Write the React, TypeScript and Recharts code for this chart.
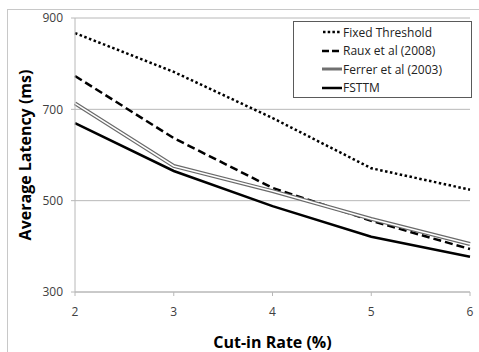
import React from 'react';
import { LineChart, Line, XAxis, YAxis, CartesianGrid } from 'recharts';

const cutInRates = ['2', '3', '4', '5', '6'];
const fixedThreshold = [867, 782, 681, 571, 524];
const raux2008 = [773, 637, 528, 456, 394];
const ferrer2003 = [713, 576, 521, 460, 405];
const fsttm = [670, 565, 488, 421, 377];
const yTicks = [300, 500, 700, 900];

const data = cutInRates.map((c, i) => ({
  rate: c,
  fixed: fixedThreshold[i],
  raux: raux2008[i],
  ferrer: ferrer2003[i],
  fsttm: fsttm[i],
}));

const legendItems = [
  { name: 'Fixed Threshold', kind: 'dotted' },
  { name: 'Raux et al (2008)', kind: 'dashed' },
  { name: 'Ferrer et al (2003)', kind: 'double' },
  { name: 'FSTTM', kind: 'solid' },
];

const LegendBox = () => (
  <div
    style={{
      position: 'absolute',
      left: 293,
      top: 21,
      width: 179,
      height: 77,
      border: '1px solid #5a5a5a',
      background: '#fff',
      boxSizing: 'border-box',
      paddingTop: 1,
      fontFamily: 'Open Sans',
      fontSize: 12,
      color: '#222',
    }}
  >
    {legendItems.map((it) => (
      <div key={it.name} style={{ display: 'flex', alignItems: 'center', height: 18.5 }}>
        <svg width={48} height={10}>
          {it.kind === 'dotted' && (
            <line x1={29} y1={5} x2={47} y2={5} stroke="#000" strokeWidth={2.5} strokeDasharray="2.5 2.2" />
          )}
          {it.kind === 'dashed' && (
            <line x1={28} y1={5} x2={47} y2={5} stroke="#000" strokeWidth={2.5} strokeDasharray="7 3" />
          )}
          {it.kind === 'double' && <line x1={28} y1={5} x2={48} y2={5} stroke="#707070" strokeWidth={3} />}
          {it.kind === 'solid' && <line x1={28} y1={5} x2={48} y2={5} stroke="#000" strokeWidth={2.5} />}
        </svg>
        <span style={{ marginLeft: 1 }}>{it.name}</span>
      </div>
    ))}
  </div>
);

export default function App() {
  return (
    <div style={{ position: 'absolute', left: 0, top: 0, width: 479, height: 352, background: '#fff' }}>
      <div
        style={{
          position: 'absolute',
          left: 7,
          top: 9,
          width: 480,
          height: 350,
          borderLeft: '1px solid #c8c8c8',
          borderTop: '1px solid #c8c8c8',
        }}
      />
      <LineChart
        width={479}
        height={352}
        data={data}
        margin={{ top: 18, right: 9, bottom: 0, left: 0 }}
        style={{ position: 'absolute', left: 0, top: 0 }}
      >
        <CartesianGrid vertical={false} stroke="#b8b8b8" strokeWidth={1} />
        <XAxis
          dataKey="rate"
          height={60}
          stroke="#b8b8b8"
          tickSize={4}
          tick={{ fill: '#404040', fontSize: 12, fontFamily: 'Open Sans' }}
          tickMargin={11}
          label={{
            value: 'Cut-in Rate (%)',
            position: 'insideBottom',
            offset: 4,
            fill: '#000',
            fontSize: 16,
            fontWeight: 'bold',
            fontFamily: 'Open Sans',
          }}
        />
        <YAxis
          width={75}
          domain={[300, 900]}
          ticks={yTicks}
          stroke="#b8b8b8"
          tickSize={4}
          tickMargin={8}
          tick={{ fill: '#404040', fontSize: 12, fontFamily: 'Open Sans' }}
          label={{
            value: 'Average Latency (ms)',
            angle: -90,
            position: 'insideLeft',
            offset: 25,
            style: { textAnchor: 'middle' },
            fill: '#000',
            fontSize: 16,
            fontWeight: 'bold',
            fontFamily: 'Open Sans',
          }}
        />
        <Line dataKey="fixed" stroke="#000" strokeWidth={2.5} strokeDasharray="2.5 2.5" dot={false} isAnimationActive={false} />
        <Line dataKey="raux" stroke="#000" strokeWidth={2.5} strokeDasharray="8 4" dot={false} isAnimationActive={false} />
        <Line dataKey="ferrer" stroke="#6a6a6a" strokeWidth={4} dot={false} isAnimationActive={false} />
        <Line dataKey="ferrer" stroke="#ffffff" strokeWidth={1.5} dot={false} isAnimationActive={false} />
        <Line dataKey="fsttm" stroke="#000" strokeWidth={2.5} dot={false} isAnimationActive={false} />
      </LineChart>
      <LegendBox />
    </div>
  );
}
